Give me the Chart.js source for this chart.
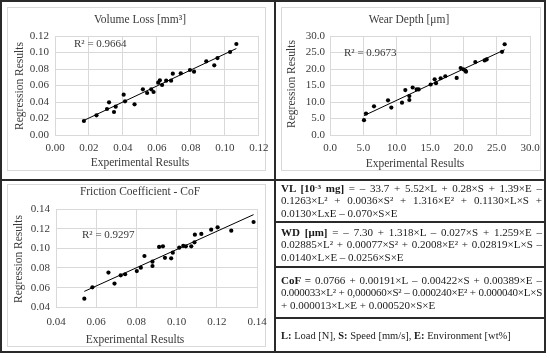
<!DOCTYPE html>
<html><head><meta charset="utf-8">
<script src="https://cdn.jsdelivr.net/npm/chart.js@4"></script>
<style>
html,body{margin:0;padding:0;background:#fff;}
#fig{position:relative;width:550px;height:358px;overflow:hidden;font-family:'Liberation Serif',serif;}
.abs{position:absolute;box-sizing:border-box;}
canvas{position:absolute;}
.gbox{position:absolute;box-sizing:border-box;border:1px solid #d9d9d9;}
.line{position:absolute;background:#2a2a2a;}
.t{position:absolute;white-space:nowrap;line-height:1;transform:translate(-50%,-50%);font-size:11.5px;color:#3a3a3a;}
.ty{position:absolute;white-space:nowrap;line-height:1;transform:translate(-50%,-50%) rotate(-90deg);font-size:11.5px;color:#3a3a3a;}
.cell{position:absolute;left:281px;width:261px;font-size:11px;line-height:12.3px;color:#1a1a1a;}
.cell div{white-space:nowrap;}
.cell .j{text-align:justify;text-align-last:justify;}
.cell .tight{letter-spacing:-0.25px;}
sup{font-size:0.65em;line-height:0;vertical-align:0.45em;}
</style>
</head><body>
<div id="fig">
  <div class="gbox" style="left:7px;top:7px;width:259px;height:164px"></div>
  <div class="gbox" style="left:281px;top:7px;width:260px;height:164px"></div>
  <div class="gbox" style="left:7px;top:184px;width:259px;height:163px"></div>

  <canvas id="c1" width="275" height="180" style="left:0;top:0;width:275px;height:180px"></canvas>
  <canvas id="c2" width="275" height="180" style="left:275px;top:0;width:275px;height:180px"></canvas>
  <canvas id="c3" width="275" height="172" style="left:0;top:180px;width:275px;height:172px"></canvas>

  <div class="t" id="t1" style="left:140px;top:20px"></div>
  <div class="t" id="t2" style="left:409px;top:20px"></div>
  <div class="t" id="t3" style="left:140px;top:192px"></div>
  <div class="t" id="x1" style="left:140px;top:163px"></div>
  <div class="t" id="x2" style="left:415px;top:164px"></div>
  <div class="t" id="x3" style="left:135px;top:340px"></div>
  <div class="ty" id="y1" style="left:20px;top:86px"></div>
  <div class="ty" id="y2" style="left:292px;top:84px"></div>
  <div class="ty" id="y3" style="left:19px;top:259px"></div>

  <div class="cell" style="top:182px">
    <div class="j"><b>VL [10<sup>-3</sup> mg]</b> = – 33.7 + 5.52×L + 0.28×S + 1.39×E –</div>
    <div class="j">0.1263×L² + 0.0036×S² + 1.316×E² + 0.1130×L×S +</div>
    <div>0.0130×LxE – 0.070×S×E</div>
  </div>
  <div class="cell" style="top:226px">
    <div class="j"><b>WD [μm]</b> = – 7.30 + 1.318×L – 0.027×S + 1.259×E –</div>
    <div class="j">0.02885×L² + 0.00077×S² + 0.2008×E² + 0.02819×L×S –</div>
    <div>0.0140×L×E – 0.0256×S×E</div>
  </div>
  <div class="cell" style="top:274px">
    <div class="j"><b>CoF =</b> 0.0766 + 0.00191×L – 0.00422×S + 0.00389×E –</div>
    <div class="j tight">0.000033×L² + 0,000060×S² – 0.000240×E² + 0.000040×L×S</div>
    <div>+ 0.000013×L×E + 0.000520×S×E</div>
  </div>
  <div class="cell" style="top:330px;font-size:10.5px">
    <div><b>L:</b> Load [N], <b>S:</b> Speed [mm/s], <b>E:</b> Environment [wt%]</div>
  </div>

  <div class="abs" style="left:0;top:0;width:546px;height:353px;border:2px solid #2a2a2a"></div>
  <div class="line" style="left:274px;top:0;width:2px;height:353px"></div>
  <div class="line" style="left:0;top:179px;width:546px;height:2px"></div>
  <div class="line" style="left:275px;top:221px;width:270px;height:2px"></div>
  <div class="line" style="left:275px;top:266px;width:270px;height:2px"></div>
  <div class="line" style="left:275px;top:317px;width:270px;height:2px"></div>
</div>
<script>
// ---- data ----
const vlExp = [0.0170,0.0244,0.0306,0.0318,0.0347,0.0357,0.0404,0.0412,0.0468,0.0517,0.0542,0.0566,0.0580,0.0607,0.0617,0.0630,0.0654,0.0683,0.0693,0.0740,0.0794,0.0818,0.0890,0.0937,0.0956,0.1030,0.1067];
const vlReg = [0.0170,0.0238,0.0315,0.0396,0.0279,0.0343,0.0489,0.0408,0.0372,0.0554,0.0509,0.0554,0.0521,0.0634,0.0663,0.0606,0.0659,0.0659,0.0743,0.0747,0.0788,0.0768,0.0893,0.0844,0.0933,0.1006,0.1103];
const wdExp = [5.1,5.4,6.6,8.7,9.2,10.8,11.3,11.9,11.9,12.4,13.0,13.3,15.1,15.7,15.9,16.6,17.3,19.0,19.6,20.0,20.3,20.4,21.8,23.2,23.5,25.8,26.2];
const wdReg = [4.5,6.5,8.7,10.5,8.3,9.8,13.6,11.8,10.6,14.4,13.8,13.8,15.3,16.9,15.7,17.2,17.8,17.3,20.3,19.9,19.5,19.2,22.1,22.6,22.9,25.2,27.5];
const cofExp = [0.0541,0.0581,0.0661,0.0691,0.0722,0.0744,0.0802,0.0822,0.0840,0.0880,0.0880,0.0913,0.0932,0.0942,0.0973,0.0981,0.1013,0.1033,0.1046,0.1073,0.1089,0.1091,0.1123,0.1172,0.1204,0.1272,0.1383];
const cofReg = [0.0488,0.0603,0.0753,0.0641,0.0725,0.0736,0.0769,0.0803,0.0922,0.0864,0.0820,0.1014,0.1020,0.0903,0.0898,0.0956,0.1007,0.1024,0.1020,0.1020,0.1061,0.1139,0.1146,0.1190,0.1214,0.1180,0.1268];

const vlTicks = ['0.00','0.02','0.04','0.06','0.08','0.10','0.12'];
const wdTicks = ['0.0','5.0','10.0','15.0','20.0','25.0','30.0'];
const cofTicks = ['0.04','0.06','0.08','0.10','0.12','0.14'];

const chartTitles = ['Volume Loss [mm³]','Wear Depth [μm]','Friction Coefficient - CoF'];
const xTitle = 'Experimental Results';
const yTitle = 'Regression Results';
const r2Labels = ['R² = 0.9664','R² = 0.9673','R² = 0.9297'];

// ---- text ----
['t1','t2','t3'].forEach((id,i)=>document.getElementById(id).textContent = chartTitles[i]);
['x1','x2','x3'].forEach(id=>document.getElementById(id).textContent = xTitle);
['y1','y2','y3'].forEach(id=>document.getElementById(id).textContent = yTitle);

const FONT = "'Liberation Serif', serif";
const TXT = '#3a3a3a';
const GRID = '#d9d9d9';

// least-squares linear trendline over the data range
function trend(xs, ys){
  const n = xs.length;
  const mx = xs.reduce((a,b)=>a+b,0)/n, my = ys.reduce((a,b)=>a+b,0)/n;
  let sxy=0, sxx=0;
  for(let i=0;i<n;i++){ sxy += (xs[i]-mx)*(ys[i]-my); sxx += (xs[i]-mx)*(xs[i]-mx); }
  const b = sxy/sxx, a = my - b*mx;
  const x0 = Math.min(...xs), x1 = Math.max(...xs);
  return [{x:x0,y:a+b*x0},{x:x1,y:a+b*x1}];
}

const r2Plugin = {
  id:'r2',
  afterDatasetsDraw(chart, args, opts){
    const {ctx, chartArea} = chart;
    ctx.save();
    ctx.font = "11px " + FONT;
    ctx.fillStyle = TXT;
    ctx.textAlign = 'left';
    ctx.textBaseline = 'middle';
    ctx.fillText(opts.text, chartArea.left + opts.dx, chartArea.top + opts.dy);
    ctx.restore();
  }
};

function build(id, c){
  return new Chart(document.getElementById(id), {
    type:'scatter',
    data:{datasets:[
      {data:c.xs.map((x,i)=>({x:x,y:c.ys[i]})), pointRadius:2.1, pointBackgroundColor:'#000', pointBorderWidth:0, borderColor:'#000', order:0},
      {data:trend(c.xs,c.ys), showLine:true, pointRadius:0, borderColor:'#000', borderWidth:1, fill:false, order:1}
    ]},
    options:{
      responsive:false, animation:false, devicePixelRatio:1, events:[],
      layout:{padding:c.pad},
      plugins:{legend:{display:false}, tooltip:{enabled:false}, title:{display:false},
        r2:{text:c.r2, dx:c.r2dx, dy:c.r2dy}},
      scales:{
        x:{type:'linear', min:c.xmin, max:c.xmax,
          afterFit:s=>{s.height=20;},
          ticks:{stepSize:c.step, autoSkip:false, maxRotation:0, minRotation:0, padding:c.xtp, color:TXT, font:{family:FONT,size:11}, callback:(v,i)=>c.ticks[i]},
          grid:{color:GRID, drawTicks:false, lineWidth:1}, border:{color:GRID}},
        y:{type:'linear', min:c.xmin, max:c.xmax,
          afterFit:s=>{s.width=40;},
          ticks:{stepSize:c.step, autoSkip:false, padding:c.ytp, color:TXT, font:{family:FONT,size:11}, callback:(v,i)=>c.ticks[i]},
          grid:{color:GRID, drawTicks:false, lineWidth:1}, border:{color:GRID}}
      }
    },
    plugins:[r2Plugin]
  });
}

build('c1',{xs:vlExp, ys:vlReg, xmin:0, xmax:0.12, step:0.02, ticks:vlTicks,
  pad:{left:15,right:15,top:36,bottom:25}, xtp:6.4, ytp:6, r2:r2Labels[0], r2dx:19, r2dy:8});
build('c2',{xs:wdExp, ys:wdReg, xmin:0, xmax:30, step:5, ticks:wdTicks,
  pad:{left:15,right:20,top:36,bottom:25}, xtp:6.4, ytp:5, r2:r2Labels[1], r2dx:14, r2dy:17});
build('c3',{xs:cofExp, ys:cofReg, xmin:0.04, xmax:0.14, step:0.02, ticks:cofTicks,
  pad:{left:16,right:18,top:29,bottom:24.7}, xtp:8.1, ytp:6, r2:r2Labels[2], r2dx:26, r2dy:26});
</script>
</body></html>
